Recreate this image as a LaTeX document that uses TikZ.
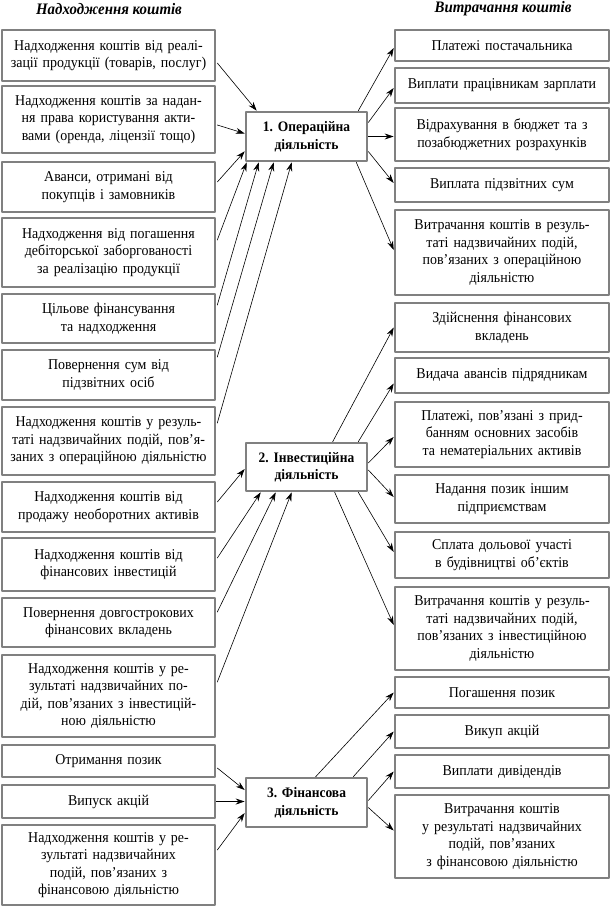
\documentclass[tikz,border=0pt]{standalone}
\usepackage{fontspec}
\setmainfont{Liberation Serif}[FakeStretch=0.93]
\frenchspacing
\usetikzlibrary{arrows.meta,calc}
\begin{document}
\begin{tikzpicture}[
		x=1pt, y=-1pt,
		>={Stealth[length=9pt,width=6pt]},
		line cap=round,
		line join=round,
		font=\fontsize{15}{17.5}\selectfont,
		frame/.style={draw=black!50, line width=2.6pt, fill=white, align=center, inner sep=2pt},
		inbox/.style={frame, minimum width=213pt, text width=208pt},
		outbox/.style={frame, minimum width=214pt, text width=209pt},
		actbox/.style={frame, minimum width=121pt, text width=116pt, font=\fontsize{14.5}{17.5}\selectfont\bfseries},
		head/.style={font=\fontsize{16}{18}\selectfont\bfseries\itshape}
		]
		\useasboundingbox (0,0) rectangle (612,910);
		% headings
		\node[head] (hin) at (109,9) {Надходження коштів};
		\node[head] (hout) at (503,9) {Витрачання коштів};
		% kinds of activity
		\node[actbox, minimum height=49pt] (op) at (306.5,136.5) {1. Операційна\\діяльність};
		\node[actbox, minimum height=48pt] (inv) at (306.5,467) {2. Інвестиційна\\діяльність};
		\node[actbox, minimum height=49pt] (fin) at (306.5,802.5) {3. Фінансова\\діяльність};
		% inflows
		\node[inbox, minimum height=51pt] (l1) at (108.5,55.5) {Надходження коштів від реалі-\\зації продукції (товарів, послуг)};
		\node[inbox, minimum height=67pt] (l2) at (108.5,119.5) {Надходження коштів за надан-\\ня права користування акти-\\вами (оренда, ліцензії тощо)};
		\node[inbox, minimum height=50pt] (l3) at (108.5,187) {Аванси, отримані від\\покупців і замовників};
		\node[inbox, minimum height=69pt] (l4) at (108.5,252.5) {Надходження від погашення\\дебіторської заборгованості\\за реалізацію продукції};
		\node[inbox, minimum height=49pt] (l5) at (108.5,318.5) {Цільове фінансування\\та надходження};
		\node[inbox, minimum height=50pt] (l6) at (108.5,375) {Повернення сум від\\підзвітних осіб};
		\node[inbox, minimum height=68pt] (l7) at (108.5,441) {Надходження коштів у резуль-\\таті надзвичайних подій, пов’я-\\заних з операційною діяльністю};
		\node[inbox, minimum height=50pt] (l8) at (108.5,507) {Надходження коштів від\\продажу необоротних активів};
		\node[inbox, minimum height=53pt] (l9) at (108.5,564.5) {Надходження коштів від\\фінансових інвестицій};
		\node[inbox, minimum height=49pt] (l10) at (108.5,622.5) {Повернення довгострокових\\фінансових вкладень};
		\node[inbox, minimum height=82pt] (l11) at (108.5,696) {Надходження коштів у ре-\\зультаті надзвичайних по-\\дій, пов’язаних з інвестицій-\\ною діяльністю};
		\node[inbox, minimum height=32pt] (l12) at (108.5,761) {Отримання позик};
		\node[inbox, minimum height=33pt] (l13) at (108.5,801.5) {Випуск акцій};
		\node[inbox, minimum height=80pt] (l14) at (108.5,865) {Надходження коштів у ре-\\зультаті надзвичайних\\подій, пов’язаних з\\фінансовою діяльністю};
		% outflows
		\node[outbox, minimum height=31pt] (r1) at (502,45.5) {Платежі постачальника};
		\node[outbox, minimum height=35pt] (r2) at (502,85.5) {Виплати працівникам зарплати};
		\node[outbox, minimum height=53pt] (r3) at (502,134.5) {Відрахування в бюджет та з\\позабюджетних розрахунків};
		\node[outbox, minimum height=34pt] (r4) at (502,185) {Виплата підзвітних сум};
		\node[outbox, minimum height=85pt] (r5) at (502,252.5) {Витрачання коштів в резуль-\\таті надзвичайних подій,\\пов’язаних з операційною\\діяльністю};
		\node[outbox, minimum height=49pt] (r6) at (502,327.5) {Здійснення фінансових\\вкладень};
		\node[outbox, minimum height=35pt] (r7) at (502,375.5) {Видача авансів підрядникам};
		\node[outbox, minimum height=65pt] (r8) at (502,434.5) {Платежі, пов’язані з прид-\\банням основних засобів\\та нематеріальних активів};
		\node[outbox, minimum height=48pt] (r9) at (502,499) {Надання позик іншим\\підприємствам};
		\node[outbox, minimum height=46pt] (r10) at (502,555) {Сплата дольової участі\\в будівництві об’єктів};
		\node[outbox, minimum height=83pt] (r11) at (502,628.5) {Витрачання коштів у резуль-\\таті надзвичайних подій,\\пов’язаних з інвестиційною\\діяльністю};
		\node[outbox, minimum height=31pt] (r12) at (502,692.5) {Погашення позик};
		\node[outbox, minimum height=33pt] (r13) at (502,731.5) {Викуп акцій};
		\node[outbox, minimum height=33pt] (r14) at (502,771.5) {Виплати дивідендів};
		\node[outbox, minimum height=83pt] (r15) at (502,836.5) {Витрачання коштів\\у результаті надзвичайних\\подій, пов’язаних\\з фінансовою діяльністю};
		\begin{scope}[->, line width=0.6pt]
		% into operating activity
		\draw ($(l1.east)+(1,7.5)$) -- ($(op.north west)+(12,0)$);
		\draw ($(l2.east)+(1,5.5)$) -- ($(op.west)+(0,-3)$);
		\draw ($(l3.east)+(1,-5)$) -- ($(op.south west)+(0,-11)$);
		\draw ($(l4.east)+(1,-12.5)$) -- ($(op.south west)+(2,0)$);
		\draw ($(l5.east)+(1,-13.5)$) -- ($(op.south west)+(14,0)$);
		\draw ($(l6.east)+(1,-18)$) -- ($(op.south west)+(29,0)$);
		\draw ($(l7.east)+(1,-18)$) -- ($(op.south west)+(47,0)$);
		% out of operating activity
		\draw ($(op.north east)+(-10,0)$) -- ($(r1.west)+(0,2.5)$);
		\draw ($(op.east)+(0,-14)$) -- ($(r2.west)+(0,2.5)$);
		\draw (op.east) -- (op.east -| r3.west);
		\draw ($(op.east)+(0,15)$) -- ($(r4.west)+(0,-2)$);
		\draw ($(op.south east)+(-12,0)$) -- ($(r5.west)+(0,-2.5)$);
		% into investing activity
		\draw ($(l8.east)+(1,-5)$) -- ($(inv.west)+(0,2)$);
		\draw ($(l9.east)+(1,-6.5)$) -- ($(inv.south west)+(16,0)$);
		\draw ($(l10.east)+(1,-10.5)$) -- ($(inv.south west)+(31,0)$);
		\draw ($(l11.east)+(1,-14)$) -- ($(inv.south west)+(47,0)$);
		% out of investing activity
		\draw ($(inv.north west)+(88,0)$) -- (r6.west);
		\draw ($(inv.north east)+(-10,0)$) -- ($(r7.west)+(0,8)$);
		\draw ($(inv.east)+(0,-4)$) -- ($(r8.west)+(0,2.5)$);
		\draw ($(inv.east)+(0,3)$) -- ($(r9.west)+(0,-2)$);
		\draw ($(inv.south east)+(-10,0)$) -- ($(r10.west)+(0,-3)$);
		\draw ($(inv.south west)+(90,0)$) -- ($(r11.west)+(0,-3.5)$);
		% into financing activity
		\draw ($(l12.east)+(1,7)$) -- ($(fin.west)+(0,-12.5)$);
		\draw (l13.east) -- (l13.east -| fin.west);
		\draw ($(l14.east)+(1,-15)$) -- ($(fin.west)+(0,10.5)$);
		% out of financing activity
		\draw ($(fin.north west)+(71,0)$) -- (r12.west);
		\draw ($(fin.north east)+(-15,0)$) -- (r13.west);
		\draw ($(fin.east)+(0,-2)$) -- (r14.west);
		\draw ($(fin.east)+(0,5)$) -- ($(r15.west)+(0,-6)$);
		\end{scope}
		\end{tikzpicture}
\end{document}
